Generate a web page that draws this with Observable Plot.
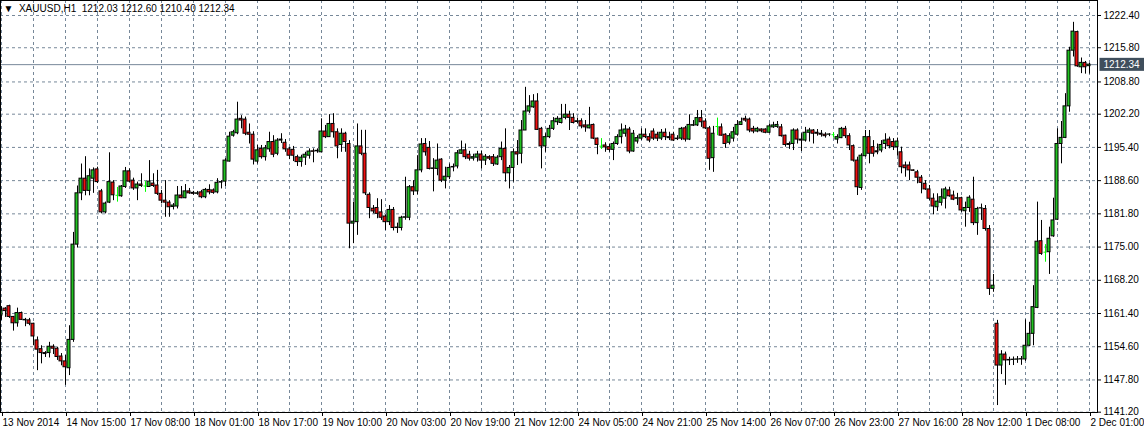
<!DOCTYPE html>
<html><head><meta charset="utf-8">
<script src="https://cdn.jsdelivr.net/npm/d3@7"></script>
<script src="https://cdn.jsdelivr.net/npm/@observablehq/plot@0.6"></script>
<style>html,body{margin:0;padding:0;background:#fff;overflow:hidden}</style>
</head><body><div id="chart"></div>
<script>
const symbol = "XAUUSD,H1";
const opens = [1161.0,1162.4,1162.9,1160.7,1159.4,1161.5,1160.1,1160.0,1159.3,1155.9,1154.1,1153.3,1153.3,1154.6,1154.2,1152.6,1151.6,1150.2,1156.0,1175.5,1186.0,1189.0,1186.5,1189.0,1190.9,1186.4,1182.1,1184.1,1188.2,1185.6,1185.4,1187.3,1190.5,1188.6,1187.0,1187.8,1187.5,1187.3,1188.0,1187.6,1185.9,1184.5,1184.1,1183.2,1183.3,1185.55,1185.0,1186.4,1186.1,1185.9,1186.2,1185.2,1186.7,1186.6,1186.2,1188.2,1188.4,1192.5,1197.8,1198.3,1201.25,1201.1,1198.4,1198.0,1192.5,1195.1,1193.4,1195.0,1196.5,1194.1,1196.8,1196.35,1195.0,1194.9,1193.4,1192.4,1193.3,1193.7,1194.6,1194.6,1194.4,1198.65,1197.5,1200.2,1198.5,1195.9,1198.2,1196.1,1179.8,1180.1,1195.6,1194.1,1185.7,1182.85,1183.0,1182.1,1181.25,1180.1,1182.6,1179.0,1178.9,1181.0,1181.0,1187.25,1186.4,1190.7,1196.1,1195.3,1191.0,1191.0,1192.9,1188.6,1189.3,1191.3,1191.5,1194.1,1194.8,1193.9,1193.1,1193.3,1193.95,1192.7,1193.4,1193.4,1191.9,1193.4,1195.1,1190.1,1191.2,1194.4,1194.1,1198.86,1202.75,1203.6,1204.8,1199.2,1195.6,1197.5,1199.2,1200.55,1200.4,1201.45,1202.1,1201.45,1200.6,1200.75,1199.9,1199.3,1200.0,1197.2,1195.65,1195.8,1195.45,1194.9,1196.1,1197.5,1198.2,1199.06,1194.56,1196.6,1197.2,1198.0,1197.5,1198.65,1198.0,1197.2,1198.4,1197.5,1198.0,1197.2,1197.2,1199.3,1197.0,1199.85,1199.9,1201.4,1200.7,1199.3,1193.2,1199.67,1199.5,1198.0,1196.35,1197.2,1198.0,1200.0,1201.25,1201.1,1199.2,1198.65,1199.06,1199.06,1198.4,1199.5,1199.6,1199.5,1197.8,1195.9,1196.1,1198.86,1197.0,1196.8,1198.4,1198.86,1198.4,1198.2,1198.0,1198.0,1198.0,1197.0,1197.3,1199.2,1197.7,1195.65,1192.7,1187.1,1193.6,1197.5,1195.45,1194.6,1194.76,1196.1,1197.0,1196.5,1195.45,1194.4,1191.7,1191.7,1190.7,1190.3,1189.2,1187.95,1186.8,1184.9,1183.15,1184.06,1184.9,1186.6,1185.55,1184.9,1185.0,1182.34,1183.0,1184.7,1179.9,1182.9,1182.8,1178.7,1166.45,1159.3,1150.75,1153.0,1151.8,1151.9,1151.95,1152.0,1152.0,1154.8,1157.24,1162.55,1176.2,1173.95,1173.95,1177.2,1180.6,1196.1,1197.35,1203.8,1215.2,1219.0,1211.8,1212.7,1212.03];
const highs = [1162.8,1162.6,1163.1,1160.8,1162.5,1161.7,1160.4,1160.4,1159.4,1156.6,1154.8,1153.6,1155.5,1155.0,1154.5,1153.2,1152.8,1158.9,1178.0,1187.5,1192.0,1193.5,1191.0,1191.2,1191.35,1186.8,1184.2,1194.3,1188.6,1187.2,1187.6,1191.3,1191.0,1189.1,1188.3,1190.0,1188.4,1192.7,1190.0,1190.7,1186.6,1188.6,1184.5,1183.9,1187.4,1187.4,1187.8,1187.0,1186.4,1186.4,1186.6,1187.0,1187.75,1186.9,1189.0,1188.6,1193.1,1198.5,1198.9,1204.65,1201.9,1201.6,1200.2,1198.6,1195.8,1195.8,1195.8,1198.5,1197.8,1197.2,1198.2,1197.0,1195.4,1195.6,1193.8,1193.8,1194.4,1195.1,1195.1,1195.1,1201.25,1199.9,1202.1,1202.3,1199.2,1199.2,1198.5,1196.8,1184.2,1200.2,1198.9,1198.9,1186.1,1183.5,1184.9,1184.7,1181.6,1183.5,1183.1,1179.9,1181.3,1189.3,1187.6,1188.6,1193.7,1197.2,1197.2,1196.6,1193.1,1196.1,1193.1,1191.35,1192.0,1192.0,1194.76,1196.7,1196.1,1194.6,1194.0,1194.6,1194.6,1193.95,1193.7,1193.95,1193.7,1196.5,1199.2,1191.7,1195.1,1196.8,1200.9,1207.7,1206.0,1206.2,1206.4,1199.5,1198.2,1199.9,1201.5,1201.7,1204.2,1204.2,1202.8,1202.3,1201.4,1201.25,1200.9,1203.6,1200.2,1197.3,1197.2,1196.35,1196.1,1196.5,1198.0,1200.2,1199.9,1199.5,1198.86,1197.8,1199.2,1199.2,1198.2,1199.2,1198.5,1199.06,1199.2,1198.5,1198.5,1197.8,1199.5,1199.7,1202.07,1200.9,1202.96,1202.96,1201.25,1199.7,1199.7,1201.4,1200.2,1198.2,1198.2,1199.5,1200.9,1201.4,1201.8,1201.4,1199.7,1199.5,1199.2,1199.2,1200.2,1200.55,1200.7,1200.1,1197.9,1196.5,1199.2,1199.2,1198.2,1199.5,1199.3,1199.06,1199.06,1198.86,1198.4,1198.2,1198.4,1198.0,1199.5,1199.7,1198.2,1195.9,1193.4,1194.1,1198.86,1198.86,1196.8,1196.1,1196.8,1198.2,1197.5,1197.2,1197.3,1195.45,1192.4,1192.4,1190.8,1190.7,1189.65,1188.6,1187.6,1185.9,1185.9,1186.9,1187.25,1187.25,1186.45,1186.0,1185.2,1184.2,1185.5,1189.3,1183.15,1183.8,1183.5,1179.4,1169.4,1160.0,1153.8,1153.5,1152.45,1152.5,1152.6,1152.6,1160.1,1159.6,1167.1,1184.2,1180.45,1175.5,1179.07,1185.0,1199.2,1200.7,1206.4,1215.9,1221.0,1219.2,1213.7,1213.0,1212.60];
const lows = [1160.0,1160.6,1160.4,1157.8,1158.6,1160.0,1158.7,1158.9,1154.8,1149.7,1151.1,1152.4,1152.3,1153.0,1151.8,1150.7,1146.7,1148.7,1155.5,1174.8,1184.5,1185.5,1185.5,1186.0,1188.0,1181.8,1181.8,1183.9,1184.5,1184.2,1185.2,1187.0,1188.2,1186.6,1184.5,1187.2,1186.2,1187.2,1187.2,1185.55,1183.85,1181.1,1181.1,1182.6,1182.8,1184.9,1184.9,1185.8,1185.6,1185.6,1184.9,1184.9,1185.7,1185.8,1185.9,1186.9,1187.4,1192.4,1197.5,1198.0,1199.2,1197.8,1196.1,1191.8,1192.0,1193.0,1192.6,1194.4,1193.3,1193.7,1196.2,1194.4,1192.9,1192.5,1191.5,1191.35,1191.7,1193.0,1192.25,1194.2,1194.4,1197.2,1197.5,1197.3,1193.07,1194.4,1194.4,1174.65,1175.7,1177.4,1193.7,1185.55,1180.8,1181.8,1180.8,1180.45,1178.4,1179.4,1178.3,1177.8,1178.3,1180.5,1180.4,1185.55,1185.7,1190.2,1193.6,1190.8,1186.3,1189.6,1188.2,1186.9,1188.8,1190.4,1191.0,1194.0,1192.9,1192.6,1192.6,1192.4,1191.0,1191.7,1192.7,1191.5,1191.7,1192.7,1188.3,1186.9,1188.3,1191.7,1192.04,1198.86,1202.3,1203.4,1198.86,1191.0,1194.4,1197.2,1198.86,1199.9,1200.2,1201.05,1198.86,1200.2,1200.2,1199.2,1198.5,1199.2,1197.0,1193.9,1194.97,1194.4,1194.4,1192.7,1195.8,1196.1,1197.5,1194.1,1194.4,1196.1,1196.8,1197.2,1196.35,1196.8,1196.6,1196.8,1196.8,1196.8,1196.6,1196.8,1196.8,1196.5,1196.8,1199.67,1199.67,1199.5,1199.06,1190.7,1190.3,1197.8,1197.7,1195.2,1195.9,1196.5,1197.7,1199.9,1200.55,1198.4,1198.2,1198.4,1198.4,1198.2,1198.2,1199.3,1199.3,1197.5,1195.45,1195.0,1194.76,1196.1,1194.56,1196.5,1196.5,1196.1,1197.7,1197.5,1197.3,1197.6,1197.3,1196.1,1197.2,1197.2,1194.76,1192.4,1185.55,1186.6,1193.4,1192.04,1193.4,1193.9,1194.3,1194.97,1195.1,1194.76,1193.6,1190.0,1189.3,1188.6,1190.5,1187.95,1185.9,1186.6,1184.5,1181.6,1182.3,1183.4,1182.8,1185.2,1184.5,1183.5,1182.1,1179.07,1182.1,1179.4,1177.4,1180.45,1178.25,1165.1,1165.75,1142.56,1148.9,1146.7,1150.75,1150.75,1151.2,1150.8,1151.6,1154.6,1154.8,1162.4,1173.3,1171.9,1169.4,1177.0,1180.45,1192.04,1197.2,1202.6,1213.9,1211.8,1210.5,1210.4,1210.40];
const closes = [1162.0,1161.9,1160.7,1159.4,1161.5,1160.1,1160.0,1159.3,1156.7,1154.0,1153.3,1153.1,1154.6,1154.2,1152.5,1151.6,1150.4,1156.0,1175.5,1186.0,1189.0,1186.5,1189.5,1190.7,1188.3,1182.1,1183.9,1188.3,1185.6,1185.6,1187.4,1190.5,1188.4,1187.0,1187.8,1187.5,1187.5,1188.4,1187.5,1185.9,1184.5,1184.1,1183.15,1183.5,1185.55,1185.0,1186.4,1186.0,1185.9,1186.0,1185.2,1186.7,1186.2,1186.1,1188.15,1188.3,1192.7,1197.6,1198.5,1201.1,1200.9,1198.2,1198.0,1192.9,1194.8,1193.4,1195.2,1196.5,1193.9,1196.8,1197.0,1195.0,1193.7,1193.7,1192.4,1193.3,1193.9,1194.55,1194.5,1194.7,1198.65,1197.5,1200.2,1198.5,1195.6,1198.2,1196.5,1179.8,1180.2,1195.6,1194.1,1186.0,1183.0,1182.3,1181.8,1181.0,1180.1,1182.6,1178.9,1178.9,1181.0,1181.1,1187.25,1186.4,1190.7,1196.0,1194.4,1191.0,1191.1,1192.7,1188.6,1189.4,1191.2,1191.4,1194.2,1194.8,1193.4,1193.1,1193.4,1193.95,1192.7,1193.5,1193.1,1192.04,1193.3,1195.1,1190.1,1191.2,1194.4,1193.95,1198.86,1202.75,1203.8,1204.8,1198.99,1195.6,1197.5,1199.2,1200.75,1201.25,1201.25,1202.1,1201.45,1200.4,1200.75,1199.7,1199.5,1199.9,1197.2,1195.9,1195.65,1195.4,1194.9,1196.1,1197.5,1198.86,1199.06,1194.56,1198.2,1197.3,1198.0,1197.5,1196.8,1197.2,1197.2,1198.4,1197.5,1197.3,1196.8,1197.1,1199.2,1197.0,1200.0,1199.95,1201.4,1200.55,1199.3,1193.07,1198.2,1199.67,1197.8,1196.1,1197.7,1198.5,1200.0,1200.55,1200.9,1198.86,1198.65,1199.2,1198.7,1198.4,1199.7,1199.9,1200.0,1197.7,1195.9,1196.1,1198.86,1197.0,1196.8,1198.4,1198.86,1198.2,1198.2,1198.0,1197.7,1198.05,1198.0,1197.5,1199.2,1197.7,1195.8,1192.7,1187.25,1193.7,1197.5,1194.1,1194.1,1194.4,1195.9,1196.8,1195.65,1195.45,1196.6,1191.35,1191.15,1190.7,1190.6,1189.2,1188.15,1186.8,1184.9,1183.3,1184.3,1185.2,1186.8,1185.4,1184.7,1185.0,1182.5,1183.0,1185.1,1179.9,1182.8,1182.95,1178.7,1166.45,1167.1,1150.75,1153.0,1151.8,1151.9,1151.95,1152.0,1152.05,1154.8,1157.24,1162.7,1176.1,1173.6,1173.95,1176.7,1180.45,1196.1,1197.35,1203.8,1215.2,1219.1,1212.0,1212.7,1211.8,1212.34];
const priceTicks = [1222.40,1215.80,1208.80,1202.20,1195.40,1188.60,1181.80,1175.00,1168.20,1161.40,1154.60,1147.80,1141.20];
const timeLabels = ["13 Nov 2014","14 Nov 15:00","17 Nov 08:00","18 Nov 01:00","18 Nov 17:00","19 Nov 10:00","20 Nov 03:00","20 Nov 19:00","21 Nov 12:00","24 Nov 05:00","24 Nov 21:00","25 Nov 14:00","26 Nov 07:00","26 Nov 23:00","27 Nov 16:00","28 Nov 12:00","1 Dec 08:00","2 Dec 01:00"];
const lastPrice = 1212.34;
const headerValues = [1212.03, 1212.60, 1210.40, 1212.34];

const bars = opens.map((o, i) => ({i, o, h: highs[i], l: lows[i], c: closes[i], doji: o === closes[i]}));
const idx = bars.map(d => d.i);
const labelIdx = timeLabels.map((_, k) => k * 16);
const gridIdx = idx.filter(i => i % 8 === 0);
const GRID = "#778899";
const UP = "#22c322", DOWN = "#f01010", DOJI = "#00ff00";

const chart = Plot.plot({
  width: 1144, height: 434,
  marginLeft: 0, marginRight: 47, marginTop: 0, marginBottom: 22,
  style: {fontFamily: "Liberation Sans, Arial, sans-serif", fontSize: "10px", background: "#fff", color: "#000"},
  x: {type: "band", domain: idx, range: [-1, 1091], padding: 0, round: false, label: null},
  y: {domain: [1141.2, 1222.4], range: [411.7, 15], label: null},
  marks: [
    Plot.ruleY(priceTicks, {stroke: GRID, strokeDasharray: "3,3", strokeWidth: 1}),
    Plot.ruleX(gridIdx, {x: d => d, stroke: GRID, strokeDasharray: "3,3", strokeWidth: 1}),
    Plot.ruleY([lastPrice], {stroke: GRID, strokeWidth: 1}),
    Plot.ruleX(bars, {x: "i", y1: "l", y2: "h", stroke: d => d.doji ? DOJI : "#000", strokeWidth: 1}),
    Plot.barY(bars.filter(d => !d.doji), {x: "i", y1: "o", y2: "c", fill: d => d.c > d.o ? UP : DOWN, stroke: "#000", strokeWidth: 1, insetLeft: 0, insetRight: 1}),
    Plot.tickY(bars.filter(d => d.doji), {x: "i", y: "o", stroke: DOJI, insetLeft: 0.5, insetRight: 0.5}),
    Plot.frame({stroke: "#000"}),
    Plot.axisY(priceTicks, {anchor: "right", label: null, tickSize: 3, tickPadding: 3, tickFormat: d => d.toFixed(2), fill: "#000", stroke: "#000"}),
    Plot.axisX(labelIdx, {anchor: "bottom", label: null, tickSize: 4, tickPadding: 2, tickFormat: i => timeLabels[i / 16], textAnchor: "start", dx: 1, fill: "#000", stroke: "#000"}),
    Plot.text([lastPrice], {y: d => d, text: d => d.toFixed(2), frameAnchor: "right", textAnchor: "start", dx: 6, fill: "#fff", className: "lastlbl"}),
    Plot.text([symbol], {frameAnchor: "top-left", text: d => "\u25BC  " + d + "  " + headerValues.map(v => v.toFixed(2)).join(" "), textAnchor: "start", lineAnchor: "top", dx: 3, dy: 4, fill: "#000"})
  ]
});
document.getElementById("chart").appendChild(chart);
// background box behind last-price label
const t = chart.querySelector("g.lastlbl text");
if (t) {
  const b = t.getBBox();
  const g = t.parentNode;
  const r = document.createElementNS("http://www.w3.org/2000/svg", "rect");
  r.setAttribute("x", b.x - 4); r.setAttribute("y", b.y - 1);
  r.setAttribute("width", b.width + 8); r.setAttribute("height", b.height + 2);
  r.setAttribute("fill", "#3f4e5c");
  if (t.getAttribute("transform")) r.setAttribute("transform", t.getAttribute("transform"));
  g.insertBefore(r, t);
}
</script></body></html>
